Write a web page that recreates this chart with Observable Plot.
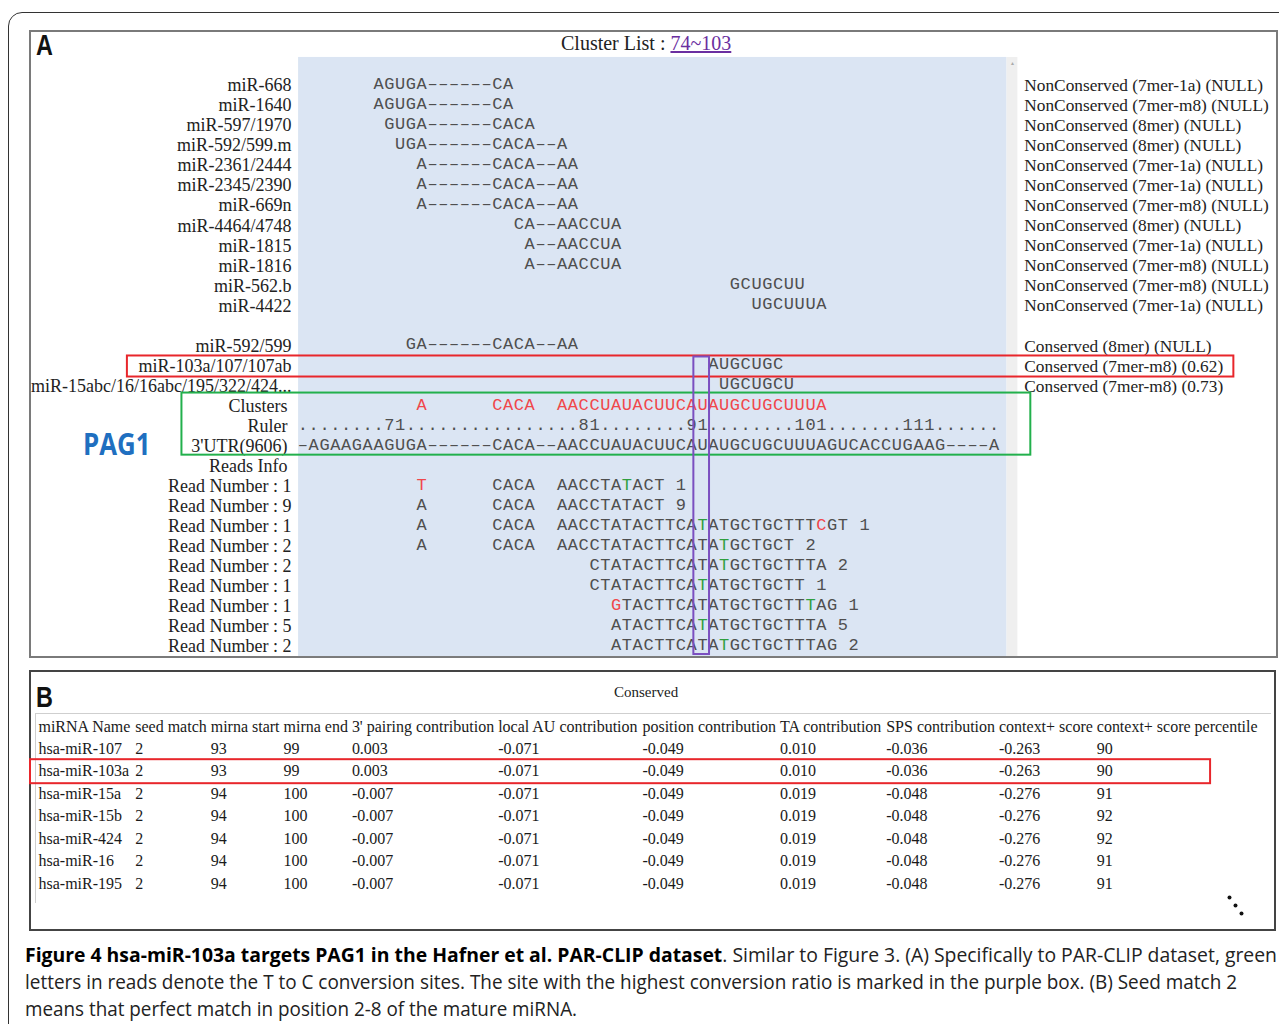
<!DOCTYPE html>
<html>
<head>
<meta charset="utf-8">
<script src="https://cdn.jsdelivr.net/npm/d3@7"></script>
<script src="https://cdn.jsdelivr.net/npm/@observablehq/plot@0.6"></script>
<style>
html, body { margin: 0; padding: 0; background: #fff; width: 1279px; height: 1024px; overflow: hidden; }
#fig { position: relative; width: 1279px; height: 1024px; }
.abs { position: absolute; }
.outer { left: 8px; top: 12px; width: 1300px; height: 1060px; border: 1.5px solid #333; border-radius: 14px; box-sizing: border-box; }
.panelA { left: 29px; top: 30px; width: 1249px; height: 628px; border: 2px solid #7a7a7a; box-sizing: border-box; }
.panelB { left: 29px; top: 670px; width: 1247px; height: 261px; border: 2px solid #444; box-sizing: border-box; }
.tableLines { left: 35px; top: 713px; width: 1236px; height: 190px; border-top: 1.5px solid #cfcfcf; border-left: 1.5px solid #cfcfcf; box-sizing: border-box; }
.letter { font-family: "Liberation Sans", Arial, sans-serif; font-weight: bold; font-size: 30px; line-height: 1; color: #111; transform: scaleX(0.78); transform-origin: left top; }
.pag { left: 83px; top: 429px; font-family: "Open Sans", "Liberation Sans", sans-serif; font-weight: bold; font-size: 30px; line-height: 1; color: #1f6fc0; transform: scaleX(0.86); transform-origin: left top; }
.title { left: 561px; top: 33px; font-family: "Liberation Serif", "Times New Roman", serif; font-size: 20px; line-height: 1; color: #222; white-space: nowrap; }
.title a { color: #6a2ea0; text-decoration: underline; }
.cons { left: 614px; top: 685px; font-family: "Liberation Serif", "Times New Roman", serif; font-size: 15px; line-height: 1; color: #222; }
.cap { left: 25px; font-family: "Open Sans", "Liberation Sans", sans-serif; font-size: 20px; line-height: 27px; color: #222; white-space: nowrap; transform-origin: left top; }
.cap b { color: #000; }
.plotHolder { width: 1279px; left: 0; }
.plotHolder svg { display: block; max-width: none !important; background: transparent !important; overflow: visible; }
</style>
</head>
<body>
<div id="fig">
  <div class="abs outer"></div>
  <div class="abs panelA"></div>
  <div class="abs panelB"></div>
  <div class="abs tableLines"></div>
  <div class="abs letter" style="left:36px;top:30px;">A</div>
  <div class="abs letter" style="left:36px;top:682px;">B</div>
  <div class="abs title">Cluster List : <a>74~103</a></div>
  <div class="abs cons">Conserved</div>
  <div id="plotA" class="abs plotHolder" style="top:0;height:660px;"></div>
  <div id="plotB" class="abs plotHolder" style="top:660px;height:275px;"></div>
  <div class="abs pag">PAG1</div>
  <div id="cap1" class="abs cap" style="top:941px;"><b>Figure 4 hsa-miR-103a targets PAG1 in the Hafner et al. PAR-CLIP dataset</b>. Similar to Figure 3. (A) Specifically to PAR-CLIP dataset, green</div>
  <div id="cap2" class="abs cap" style="top:968px;">letters in reads denote the T to C conversion sites. The site with the highest conversion ratio is marked in the purple box. (B) Seed match 2</div>
  <div id="cap3" class="abs cap" style="top:995px;">means that perfect match in position 2-8 of the mature miRNA.</div>
</div>
<script>
// ---------------- DATA: panel A ----------------
const mirLabels = ["miR-668","miR-1640","miR-597/1970","miR-592/599.m","miR-2361/2444","miR-2345/2390","miR-669n","miR-4464/4748","miR-1815","miR-1816","miR-562.b","miR-4422","","miR-592/599","miR-103a/107/107ab","miR-15abc/16/16abc/195/322/424..."];
const mirStarts = [7,7,8,9,11,11,11,20,21,21,40,42,null,10,38,39];
const mirSeqs = ["AGUGA------CA","AGUGA------CA","GUGA------CACA","UGA------CACA--A","A------CACA--AA","A------CACA--AA","A------CACA--AA","CA--AACCUA","A--AACCUA","A--AACCUA","GCUGCUU","UGCUUUA","","GA------CACA--AA","AUGCUGC","UGCUGCU"];
const siteTypes = ["NonConserved (7mer-1a) (NULL)","NonConserved (7mer-m8) (NULL)","NonConserved (8mer) (NULL)","NonConserved (8mer) (NULL)","NonConserved (7mer-1a) (NULL)","NonConserved (7mer-1a) (NULL)","NonConserved (7mer-m8) (NULL)","NonConserved (8mer) (NULL)","NonConserved (7mer-1a) (NULL)","NonConserved (7mer-m8) (NULL)","NonConserved (7mer-m8) (NULL)","NonConserved (7mer-1a) (NULL)","","Conserved (8mer) (NULL)","Conserved (7mer-m8) (0.62)","Conserved (7mer-m8) (0.73)"];

const trackLabels = ["Clusters","Ruler","3'UTR(9606)","Reads Info"];
const clusterSeq = "           A      CACA  AACCUAUACUUCAUAUGCUGCUUUA";
const rulerSeq   = "........71................81........91........101.......111......";
const utrSeq     = "-AGAAGAAGUGA------CACA--AACCUAUACUUCAUAUGCUGCUUUAGUCACCUGAAG----A";

const readStarts = [11,11,11,11,27,27,29,29,29];
const readSeqs = [
  "T      CACA  AACCTATACT",
  "A      CACA  AACCTATACT",
  "A      CACA  AACCTATACTTCATATGCTGCTTTCGT",
  "A      CACA  AACCTATACTTCATATGCTGCT",
  "CTATACTTCATATGCTGCTTTA",
  "CTATACTTCATATGCTGCTT",
  "GTACTTCATATGCTGCTTTAG",
  "ATACTTCATATGCTGCTTTA",
  "ATACTTCATATGCTGCTTTAG"
];
const readCounts = [1,9,1,2,2,1,1,5,2];
const readConversions = [[30],[],[37],[39],[39],[37],[47],[37],[39]];   // green: T to C sites (columns)
const readMismatches  = [[11],[],[48],[],[],[],[29],[],[]];              // red letters (columns)
const maxConversionCol = 37;   // purple box site

// ---------------- DATA: panel B ----------------
const tableHeaders = ["miRNA Name","seed match","mirna start","mirna end","3' pairing contribution","local AU contribution","position contribution","TA contribution","SPS contribution","context+ score","context+ score percentile"];
const miRNANames = ["hsa-miR-107","hsa-miR-103a","hsa-miR-15a","hsa-miR-15b","hsa-miR-424","hsa-miR-16","hsa-miR-195"];
const seedMatch = ["2","2","2","2","2","2","2"];
const mirnaStart = ["93","93","94","94","94","94","94"];
const mirnaEnd = ["99","99","100","100","100","100","100"];
const pairing3 = ["0.003","0.003","-0.007","-0.007","-0.007","-0.007","-0.007"];
const localAU = ["-0.071","-0.071","-0.071","-0.071","-0.071","-0.071","-0.071"];
const positionContrib = ["-0.049","-0.049","-0.049","-0.049","-0.049","-0.049","-0.049"];
const taContrib = ["0.010","0.010","0.019","0.019","0.019","0.019","0.019"];
const spsContrib = ["-0.036","-0.036","-0.048","-0.048","-0.048","-0.048","-0.048"];
const contextScore = ["-0.263","-0.263","-0.276","-0.276","-0.276","-0.276","-0.276"];
const contextPercentile = ["90","90","91","92","92","91","91"];
const highlightedMiRNA = "hsa-miR-103a";

// ---------------- styles / layout ----------------
const GRAY = "#4f4f4f", RED = "#f0474b", GREEN = "#2f9e3f", PURPLE = "#7b4fc0", BOXRED = "#e8262b", BOXGREEN = "#22b04c";
const MONO = '"Liberation Mono", "Courier New", monospace';
const SERIF = '"Liberation Serif", "Times New Roman", serif';
const NCOLS = utrSeq.length;
const COL_W = 10.8, X0 = 297;

const labelRows = [];
mirLabels.forEach((lab, i) => { if (lab) labelRows.push({row: i, label: lab, shift: -6}); });
trackLabels.forEach((lab, i) => labelRows.push({row: mirLabels.length + i, label: lab, shift: -10}));
const READ_ROW0 = mirLabels.length + trackLabels.length;
readCounts.forEach((c, i) => labelRows.push({row: READ_ROW0 + i, label: `Read Number : ${c}`, shift: -6}));
const NROWS = READ_ROW0 + readCounts.length - 1;

const chars = [];
function pushSeq(row, start, seq, color, colorAt = {}) {
  [...seq].forEach((ch, i) => {
    if (ch === " ") return;
    const col = start + i;
    chars.push({row, col, ch, color: colorAt[col] || color});
  });
}
mirSeqs.forEach((s, i) => { if (s) pushSeq(i, mirStarts[i], s, GRAY); });
const CL_ROW = mirLabels.length, RU_ROW = CL_ROW + 1, UTR_ROW = CL_ROW + 2;
pushSeq(CL_ROW, 0, clusterSeq, RED);
pushSeq(RU_ROW, 0, rulerSeq, GRAY);
pushSeq(UTR_ROW, 0, utrSeq, GRAY);
readSeqs.forEach((s, i) => {
  const colorAt = {};
  readConversions[i].forEach(c => colorAt[c] = GREEN);
  readMismatches[i].forEach(c => colorAt[c] = RED);
  pushSeq(READ_ROW0 + i, readStarts[i], s + " " + readCounts[i], GRAY, colorAt);
});
// gap characters are drawn with a wider dash glyph (as in Courier)
const glyph = ch => ch === "-" ? "–" : ch;

const siteRows = siteTypes.map((t, i) => ({row: i, text: t})).filter(d => d.text);
const hlIndex = mirLabels.indexOf("miR-103a/107/107ab");

const boxes = [
  {x1: -15.75, x2: 86.7, y1: hlIndex - 0.5, y2: hlIndex + 0.55, stroke: BOXRED},
  {x1: -10.7, x2: 67.9, y1: CL_ROW - 0.65, y2: UTR_ROW + 0.45, stroke: BOXGREEN},
  {x1: maxConversionCol - 0.3, x2: maxConversionCol + 1.15, y1: hlIndex - 0.45, y2: NROWS + 0.4, stroke: PURPLE}
];

const plotA = Plot.plot({
  width: 1279, height: 660, margin: 0,
  style: {background: "transparent", overflow: "visible"},
  x: {domain: [0, NCOLS], range: [X0, X0 + NCOLS * COL_W], axis: null},
  y: {domain: [0, NROWS], range: [85, 646], axis: null},
  color: {type: "identity"},
  marks: [
    Plot.rect([0], {x1: 0.1, x2: NCOLS + 0.7, y1: -1.4, y2: NROWS + 0.5, fill: "#dbe5f3"}),
    Plot.rect([0], {x1: NCOLS + 0.7, x2: NCOLS + 1.7, y1: -1.4, y2: NROWS + 0.5, fill: "#efefef"}),
    Plot.text(["▲"], {x: NCOLS + 1.2, y: -1.1, text: d => d, fontSize: 5, fill: "#aaa"}),
    Plot.text(labelRows.filter(d => d.shift === -6), {x: 0, y: "row", text: "label", textAnchor: "end", dx: -6, fontFamily: SERIF, fontSize: 18, fill: "#222"}),
    Plot.text(labelRows.filter(d => d.shift === -10), {x: 0, y: "row", text: "label", textAnchor: "end", dx: -10, fontFamily: SERIF, fontSize: 18, fill: "#222"}),
    Plot.text(chars, {x: d => d.col + 0.5, y: "row", text: d => glyph(d.ch), fill: "color", dy: -2, fontFamily: MONO, fontSize: 17, textAnchor: "middle"}),
    Plot.text(siteRows, {x: NCOLS + 2.3, y: "row", text: "text", textAnchor: "start", fontFamily: SERIF, fontSize: 17.3, fill: "#222"}),
    Plot.rect(boxes, {x1: "x1", x2: "x2", y1: "y1", y2: "y2", fill: "none", stroke: "stroke", strokeWidth: 2})
  ]
});
document.getElementById("plotA").appendChild(plotA);

// ---------------- panel B ----------------
const ctx = document.createElement("canvas").getContext("2d");
let fs = 15;
ctx.font = `${fs}px ${SERIF}`;
const fullW = ctx.measureText(tableHeaders.join(" ")).width;
fs = fs * (1220 / fullW);
ctx.font = `${fs}px ${SERIF}`;
const TABLE_X0 = 38;
const colX = tableHeaders.map((h, i) => TABLE_X0 + (i ? ctx.measureText(tableHeaders.slice(0, i).join(" ") + " ").width : 0));
const columns = [miRNANames, seedMatch, mirnaStart, mirnaEnd, pairing3, localAU, positionContrib, taContrib, spsContrib, contextScore, contextPercentile];
const cells = [];
tableHeaders.forEach((h, c) => cells.push({x: colX[c], row: 0, text: h}));
columns.forEach((col, c) => col.forEach((v, r) => cells.push({x: colX[c], row: r + 1, text: v})));
const hlRow = miRNANames.indexOf(highlightedMiRNA) + 1;
const lastW = ctx.measureText("context+ score").width;

const plotB = Plot.plot({
  width: 1279, height: 275, margin: 0,
  style: {background: "transparent", overflow: "visible"},
  x: {domain: [0, 1279], range: [0, 1279], axis: null},
  y: {domain: [0, miRNANames.length], range: [66, 223], axis: null},
  marks: [
    Plot.text(cells, {x: "x", y: "row", text: "text", textAnchor: "start", fontFamily: SERIF, fontSize: fs, fill: "#1a1a1a"}),
    Plot.rect([0], {x1: colX[0] - 8, x2: colX[colX.length - 1] + lastW + 20, y1: hlRow - 0.52, y2: hlRow + 0.55, fill: "none", stroke: BOXRED, strokeWidth: 2}),
    Plot.dot([0, 1, 2], {x: i => 1229 + i * 6, y: i => miRNANames.length + 0.62 + i * 0.36, r: 2, fill: "#111", stroke: "none"})
  ]
});
document.getElementById("plotB").appendChild(plotB);

// caption line fitting (condensed face)
[["cap1", 1252], ["cap2", 1212], ["cap3", 552]].forEach(([id, w]) => {
  const el = document.getElementById(id);
  const s = w / el.getBoundingClientRect().width;
  el.style.transform = `scaleX(${s})`;
});
</script>
</body>
</html>
